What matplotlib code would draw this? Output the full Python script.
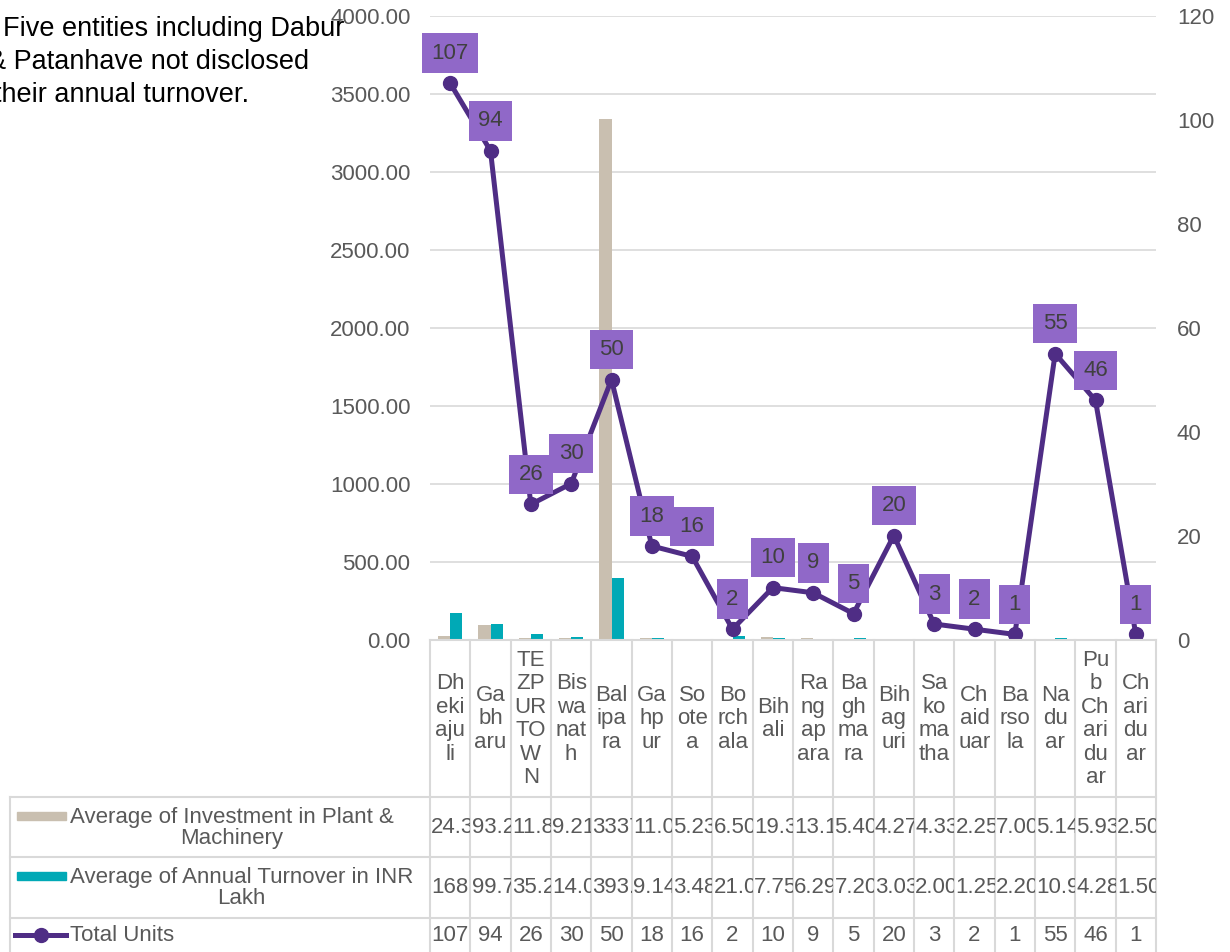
import numpy as np
import matplotlib
matplotlib.use("Agg")
import matplotlib.pyplot as plt
from matplotlib.patches import Rectangle
from matplotlib.transforms import Bbox, TransformedBbox

plt.rcParams['font.family'] = ['Liberation Sans', 'DejaVu Sans']

# data
tick_labels = ["Dh\neki\naju\nli", "Ga\nbh\naru", "TE\nZP\nUR\nTO\nW\nN", "Bis\nwa\nnat\nh",
               "Bal\nipa\nra", "Ga\nhp\nur", "So\note\na", "Bo\nrch\nala", "Bih\nali",
               "Ra\nng\nap\nara", "Ba\ngh\nma\nra", "Bih\nag\nuri", "Sa\nko\nma\ntha",
               "Ch\naid\nuar", "Ba\nrso\nla", "Na\ndu\nar", "Pu\nb\nCh\nari\ndu\nar",
               "Ch\nari\ndu\nar"]
investment = [24.35, 93.24, 11.88, 9.21, 3337.33, 11.06, 5.23, 6.50, 19.33, 13.15,
              5.40, 4.27, 4.33, 2.25, 7.00, 5.14, 5.93, 2.50]
turnover = [168.33, 99.75, 35.20, 14.00, 393.10, 9.14, 3.48, 21.00, 7.75, 6.29,
            7.20, 3.03, 2.00, 1.25, 2.20, 10.91, 4.28, 1.50]
units = [107, 94, 26, 30, 50, 18, 16, 2, 10, 9, 5, 20, 3, 2, 1, 55, 46, 1]

series_names = ["Average of Investment in Plant &\nMachinery",
                "Average of Annual Turnover in INR\nLakh",
                "Total Units"]
note_lines = ["Five entities including Dabur", "& Patanhave not disclosed", "their annual turnover."]

BEIGE = '#c9bfb0'
TEAL = '#00a9b6'
PURPLE = '#4f2d85'
LABEL_BG = '#9068c8'
GRID = '#d9d9d9'
TXT = '#595959'

W, H = 1230, 952
fig = plt.figure(figsize=(W / 100, H / 100), dpi=100)

# plot area in pixels
left_px, right_px, top_px, bot_px = 430, 1156, 15.6, 639.6
ax = fig.add_axes([left_px / W, 1 - bot_px / H, (right_px - left_px) / W, (bot_px - top_px) / H])
ax2 = ax.twinx()

n = len(units)
x = np.arange(n)
ax.bar(x - 0.15, investment, 0.3, color=BEIGE, zorder=2)
ax.bar(x + 0.15, turnover, 0.3, color=TEAL, zorder=2)
ax.set_xlim(-0.5, n - 0.5)
ax.set_ylim(0, 4000)
ax.set_yticks(np.arange(0, 4001, 500))
ax.set_yticklabels([f"{v:.2f}" for v in np.arange(0, 4001, 500)])
ax.set_xticks([])
ax.yaxis.grid(True, color=GRID, lw=1.2, zorder=0)
ax.set_axisbelow(True)
ax.tick_params(axis='y', length=0, pad=14, labelsize=16, labelcolor=TXT)
for s in ax.spines.values():
    s.set_visible(False)

ax2.plot(x, units, color=PURPLE, lw=3.6, marker='o', ms=10, zorder=3)
ax2.set_ylim(0, 120)
ax2.set_yticks(np.arange(0, 121, 20))
ax2.tick_params(axis='y', length=0, pad=15, labelsize=16, labelcolor=TXT)
for s in ax2.spines.values():
    s.set_visible(False)
for i, v in enumerate(units):
    ax2.annotate(str(v), (i, v), xytext=(0, 21.6), textcoords='offset points',
                 ha='center', va='center', fontsize=16, color='#404040',
                 bbox=dict(boxstyle='square,pad=0.42', fc=LABEL_BG, ec='none'),
                 annotation_clip=False, zorder=5)

# note on the left (partly cut by the figure edge)
for line, xp, yp in zip(note_lines, [3, -12, -6], [36, 69, 102]):
    fig.text(xp / W, 1 - yp / H, line, fontsize=19.5, color='black', va='baseline', ha='left')

# data table below the plot
colw = (right_px - left_px) / n
tab_left = 10
tab = fig.add_axes([tab_left / W, 0, (right_px - tab_left) / W, (H - bot_px) / H])
tab.set_xlim(-0.5 - (left_px - tab_left) / colw, n - 0.5)
tab.set_ylim(H, bot_px)
tab.axis('off')


def tx(p):
    return -0.5 + (p - left_px) / colw


row_lines = [797, 857.5, 918]
row_centers = [828, 888, 936]
lc = dict(color=GRID, lw=1.5, clip_on=False)
tab.plot([-0.5, n - 0.5], [bot_px, bot_px], **lc)
for k in range(n + 1):
    tab.plot([k - 0.5, k - 0.5], [bot_px, H], **lc)
for yl in row_lines:
    tab.plot([tx(tab_left), n - 0.5], [yl, yl], **lc)
tab.plot([tx(tab_left), tx(tab_left)], [row_lines[0], H], **lc)

for i, lab in enumerate(tick_labels):
    tab.text(i, 719, lab, ha='center', va='center', fontsize=16, color=TXT,
             linespacing=1.15, multialignment='center')

# legend keys
tab.add_patch(Rectangle((tx(17), 812), tx(66) - tx(17), 8, color=BEIGE, clip_on=False))
tab.add_patch(Rectangle((tx(17), 872), tx(66) - tx(17), 8, color=TEAL, clip_on=False))
tab.plot([tx(15), tx(66)], [935, 935], color=PURPLE, lw=3.6, clip_on=False)
tab.plot([tx(40.5)], [935], 'o', color=PURPLE, ms=10, clip_on=False)
for name, yc in zip(series_names, row_centers):
    tab.text(tx(70), yc, name, ha='left', va='center', fontsize=16, color=TXT,
             multialignment='center', linespacing=1.05)

# cell values, clipped to their cell like the spreadsheet does
rows = [[f"{v:.2f}" for v in investment], [f"{v:.2f}" for v in turnover], [str(v) for v in units]]
tops = [row_lines[0], row_lines[1], row_lines[2]]
bots = [row_lines[1], row_lines[2], H]
for r, (vals, yc) in enumerate(zip(rows, row_centers)):
    for i, s in enumerate(vals):
        if r < 2:
            t = tab.text(i - 0.5 + 0.03, yc, s, ha='left', va='center', fontsize=16, color=TXT)
            box = TransformedBbox(Bbox([[i - 0.5, tops[r]], [i + 0.5, bots[r]]]), tab.transData)
            t.set_clip_box(box)
            t.set_clip_on(True)
        else:
            tab.text(i, yc, s, ha='center', va='center', fontsize=16, color=TXT)

fig.savefig('out.png', dpi=100)
